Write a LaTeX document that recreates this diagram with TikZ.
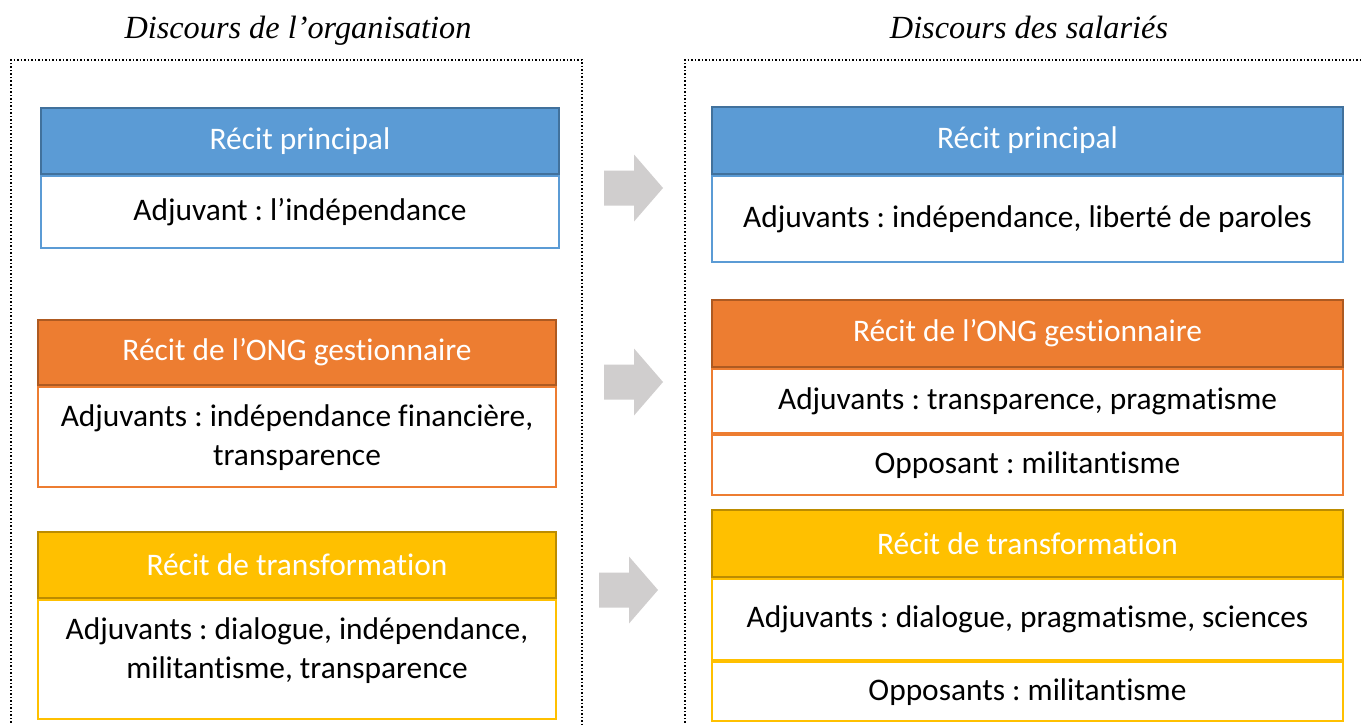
\documentclass[tikz,border=0pt]{standalone}
\usepackage{fontspec}
\setmainfont{Carlito}[Ligatures=NoCommon]
\newfontfamily\titlefont{Liberation Serif}
\usetikzlibrary{positioning}
\frenchspacing
\definecolor{bluefill}{HTML}{5B9BD5}
\definecolor{bluedark}{HTML}{41719C}
\definecolor{orangefill}{HTML}{ED7D31}
\definecolor{orangedark}{HTML}{AE5A21}
\definecolor{yellowfill}{HTML}{FFC000}
\definecolor{yellowdark}{HTML}{BC8C00}
\definecolor{arrowgray}{HTML}{D0CECE}

\begin{document}
\begin{tikzpicture}[x=1pt, y=-1pt,
        node distance=0pt,
        every node/.style={font=\fontsize{31.4}{39}\selectfont},
        hdr/.style={draw=#1dark, fill=#1fill, line width=2.5pt, text=white, inner sep=0pt},
        body/.style={draw=#1fill, fill=white, line width=2pt, align=center, inner sep=0pt},
        titletext/.style={font=\titlefont\itshape\fontsize{32.3}{36}\selectfont, anchor=base},
        frame/.style={draw=black, dotted, line width=1.5pt}]
        \clip (0,0) rectangle (1362,725);
        \fill[white] (0,0) rectangle (1362,725);

        % titles
        \node[titletext] (titleL) at (298,38) {Discours de l’organisation};
        \node[titletext] (titleR) at (1029,38) {Discours des salariés};

        % dotted frames
        \draw[frame] (11,740) -- (11,60) -- (582,60) -- (582,740);
        \draw[frame] (685,740) -- (685,60) -- (1375,60);

        % left column
        \node[hdr=blue, minimum width=518, minimum height=66] (bluehdrL) at (300,141) {Récit principal};
        \node[body=blue, minimum width=518, minimum height=72, below=of bluehdrL] (bluebodyL) {Adjuvant : l’indépendance};

        \node[hdr=orange, minimum width=518, minimum height=65] (orangehdrL) at (297,352.5) {Récit de l’ONG gestionnaire};
        \node[body=orange, minimum width=518, minimum height=100, below=of orangehdrL] (orangebodyL) {Adjuvants : indépendance financière,\\ transparence};

        \node[hdr=yellow, minimum width=518, minimum height=66] (yellowhdrL) at (297,565) {Récit de transformation};
        \node[body=yellow, minimum width=518, minimum height=119, below=of yellowhdrL] (yellowbodyL) {};
        \node[align=center] (yellowtextL) at ([yshift=9]yellowbodyL.center) {Adjuvants : dialogue, indépendance,\\ militantisme, transparence};

        % right column
        \node[hdr=blue, minimum width=631, minimum height=67] (bluehdrR) at (1027.5,140.5) {Récit principal};
        \node[body=blue, minimum width=631, minimum height=86, below=of bluehdrR] (bluebodyR) {Adjuvants : indépendance, liberté de paroles};

        \node[hdr=orange, minimum width=631, minimum height=67] (orangehdrR) at (1027.5,333.5) {Récit de l’ONG gestionnaire};
        \node[body=orange, minimum width=631, minimum height=64, below=of orangehdrR] (orangeaidR) {Adjuvants : transparence, pragmatisme};
        \node[body=orange, minimum width=631, minimum height=60, below=of orangeaidR] (orangeoppR) {Opposant : militantisme};

        \node[hdr=yellow, minimum width=631, minimum height=67] (yellowhdrR) at (1027.5,543.5) {Récit de transformation};
        \node[body=yellow, minimum width=631, minimum height=81, below=of yellowhdrR] (yellowaidR) {Adjuvants : dialogue, pragmatisme, sciences};
        \node[body=yellow, minimum width=631, minimum height=59, below=of yellowaidR] (yellowoppR) {Opposants : militantisme};

        % block arrows
        \foreach \ax/\ay in {604/188, 604/382, 599/590}
            \fill[arrowgray] (\ax,\ay) ++(0,-17.5) -- ++(30,0) -- ++(0,-16) -- ++(29,33.5)
                -- ++(-29,33.5) -- ++(0,-16) -- ++(-30,0) -- cycle;
\end{tikzpicture}
\end{document}
